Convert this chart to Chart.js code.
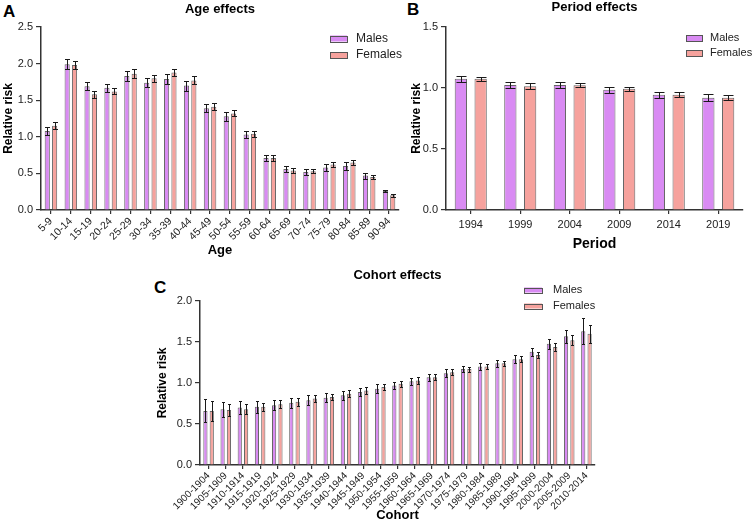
<!DOCTYPE html>
<html>
<head>
<meta charset="utf-8">
<script src="https://cdn.jsdelivr.net/npm/chart.js@4.4.1/dist/chart.umd.min.js"></script>
<style>
  body { margin: 0; background: #fff; width: 753px; height: 523px; overflow: hidden; position: relative; font-family: 'Liberation Sans', Arial, sans-serif; }
  canvas { position: absolute; }
  .tag { position: absolute; font-weight: bold; font-size: 17px; color: #000; line-height: 17px; }
</style>
</head>
<body>
<div class="tag" style="left:3px;top:3px;">A</div>
<div class="tag" style="left:407px;top:1px;">B</div>
<div class="tag" style="left:154px;top:279px;">C</div>
<canvas id="ageChart" width="410" height="258" style="left:0;top:0;"></canvas>
<canvas id="periodChart" width="378" height="258" style="left:375px;top:0;"></canvas>
<canvas id="cohortChart" width="520" height="261" style="left:100px;top:262px;"></canvas>
<script>
// ---- data ----
var ageGroups = ['5-9','10-14','15-19','20-24','25-29','30-34','35-39','40-44','45-49','50-54','55-59','60-64','65-69','70-74','75-79','80-84','85-89','90-94'];
var ageMales   = [1.08,1.99,1.69,1.67,1.83,1.74,1.79,1.70,1.39,1.28,1.03,0.71,0.56,0.52,0.58,0.60,0.47,0.26];
var ageFemales = [1.15,1.98,1.58,1.62,1.86,1.80,1.88,1.77,1.41,1.32,1.04,0.71,0.54,0.53,0.62,0.65,0.45,0.20];
var ageMalesErr   = [0.055,0.07,0.055,0.055,0.064,0.06,0.064,0.068,0.055,0.06,0.05,0.045,0.036,0.036,0.045,0.05,0.04,0.02];
var ageFemalesErr = [0.05,0.06,0.05,0.04,0.06,0.05,0.045,0.055,0.045,0.04,0.045,0.04,0.03,0.027,0.03,0.036,0.027,0.02];

var periods = ['1994','1999','2004','2009','2014','2019'];
var periodMales   = [1.075,1.025,1.025,0.985,0.945,0.92];
var periodFemales = [1.075,1.015,1.023,0.993,0.945,0.92];
var periodMalesErr   = [0.027,0.025,0.025,0.025,0.025,0.027];
var periodFemalesErr = [0.016,0.022,0.016,0.016,0.022,0.022];

var cohorts = ['1900-1904','1905-1909','1910-1914','1915-1919','1920-1924','1925-1929','1930-1934','1935-1939','1940-1944','1945-1949','1950-1954','1955-1959','1960-1964','1965-1969','1970-1974','1975-1979','1980-1984','1985-1989','1990-1994','1995-1999','2000-2004','2005-2009','2010-2014'];
var cohortMales   = [0.66,0.68,0.70,0.71,0.73,0.76,0.79,0.82,0.85,0.89,0.93,0.97,1.02,1.07,1.12,1.17,1.20,1.24,1.29,1.38,1.48,1.57,1.63];
var cohortFemales = [0.66,0.67,0.68,0.71,0.74,0.77,0.81,0.83,0.87,0.91,0.95,0.99,1.03,1.07,1.13,1.17,1.20,1.24,1.29,1.34,1.44,1.52,1.60];
var cohortMalesErr   = [0.14,0.09,0.08,0.07,0.06,0.06,0.06,0.055,0.055,0.05,0.055,0.045,0.045,0.04,0.045,0.04,0.04,0.045,0.05,0.05,0.06,0.08,0.16];
var cohortFemalesErr = [0.12,0.07,0.06,0.05,0.05,0.045,0.04,0.04,0.04,0.04,0.04,0.035,0.04,0.035,0.035,0.03,0.03,0.03,0.035,0.04,0.045,0.06,0.11];

var maleColor = '#d98bf3';
var femaleColor = '#f6a29d';
var edgeColor = '#666666';
var axisColor = '#333333';
var fontFamily = "'Liberation Sans', Arial, sans-serif";

// error bars drawn from the data through the y scale
var errorBars = {
  id: 'errorBars',
  afterDatasetsDraw: function(chart, args, opts){
    var ctx = chart.ctx;
    var yScale = chart.scales.y;
    ctx.save();
    ctx.strokeStyle = '#1a1a1a';
    ctx.lineWidth = 1;
    chart.data.datasets.forEach(function(ds, i){
      var meta = chart.getDatasetMeta(i);
      meta.data.forEach(function(bar, j){
        var v = ds.data[j], e = ds.errors[j];
        var top = Math.round(yScale.getPixelForValue(v + e)) + 0.5;
        var bot = Math.round(yScale.getPixelForValue(v - e)) + 0.5;
        var x = Math.round(bar.x) + 0.5;
        var half = opts.cap / 2;
        ctx.beginPath();
        ctx.moveTo(x, top); ctx.lineTo(x, bot);
        ctx.moveTo(x - half, top); ctx.lineTo(x + half, top);
        ctx.moveTo(x - half, bot); ctx.lineTo(x + half, bot);
        ctx.stroke();
      });
    });
    ctx.restore();
  }
};

// small stacked legend in the top right corner
var boxLegend = {
  id: 'boxLegend',
  afterDraw: function(chart, args, opts){
    var ctx = chart.ctx;
    ctx.save();
    ctx.font = opts.size + 'px ' + fontFamily;
    ctx.textBaseline = 'middle';
    chart.data.datasets.forEach(function(ds, i){
      var y = opts.y + i * opts.gap;
      ctx.fillStyle = ds.backgroundColor;
      ctx.fillRect(opts.x, y - opts.h / 2, opts.w, opts.h);
      ctx.strokeStyle = '#555';
      ctx.lineWidth = 1;
      ctx.strokeRect(opts.x + 0.5, Math.round(y - opts.h / 2) + 0.5, opts.w, opts.h);
      ctx.fillStyle = '#222';
      ctx.fillText(ds.label, opts.x + opts.w + opts.space, y);
    });
    ctx.restore();
  }
};

function makeChart(id, labels, males, females, malesErr, femalesErr, s){
  var ctx = document.getElementById(id);
  return new Chart(ctx, {
    type: 'bar',
    data: {
      labels: labels,
      datasets: [{
        label: 'Males',
        data: males,
        errors: malesErr,
        backgroundColor: maleColor,
        borderColor: edgeColor,
        borderWidth: 1,
        categoryPercentage: s.catPct,
        barPercentage: s.barPct
      },{
        label: 'Females',
        data: females,
        errors: femalesErr,
        backgroundColor: femaleColor,
        borderColor: edgeColor,
        borderWidth: 1,
        categoryPercentage: s.catPct,
        barPercentage: s.barPct
      }]
    },
    options: {
      responsive: false,
      animation: false,
      layout: { padding: { left: 0, right: s.padRight, top: 0, bottom: 0 } },
      plugins: {
        legend: { display: false },
        tooltip: { enabled: false },
        title: {
          display: true,
          text: s.title,
          fullSize: false,
          color: '#000',
          font: { family: fontFamily, size: 13, weight: 'bold' },
          padding: { top: s.titleTop, bottom: s.titleBottom }
        },
        errorBars: { cap: s.cap },
        boxLegend: s.legend
      },
      scales: {
        x: {
          grid: { display: true, drawOnChartArea: false, offset: false, tickLength: 4, color: axisColor, lineWidth: 1.2 },
          border: { color: axisColor, width: 1.5 },
          ticks: { color: '#222', font: { family: fontFamily, size: s.xTickSize }, minRotation: s.rot, maxRotation: s.rot, autoSkip: false, padding: s.xTickPad },
          title: { display: true, text: s.xTitle, color: '#000', font: { family: fontFamily, size: s.xTitleSize, weight: 'bold' }, padding: { top: 0, bottom: s.xTitlePad } },
          afterFit: function(scale){ scale.height = s.xHeight; }
        },
        y: {
          min: 0,
          max: s.yMax,
          grid: { display: true, drawOnChartArea: false, tickLength: 5, color: axisColor, lineWidth: 1.2 },
          border: { color: axisColor, width: 1.5 },
          ticks: { stepSize: 0.5, color: '#222', font: { family: fontFamily, size: 11 }, padding: 3, callback: function(v){ return v.toFixed(1); } },
          title: { display: true, text: 'Relative risk', color: '#000', font: { family: fontFamily, size: 12, weight: 'bold' }, padding: { top: s.yTitlePad, bottom: 0 } },
          afterFit: function(scale){ scale.width = s.yWidth; }
        }
      }
    },
    plugins: [errorBars, boxLegend]
  });
}

makeChart('ageChart', ageGroups, ageMales, ageFemales, ageMalesErr, ageFemalesErr, {
  title: 'Age effects', titleTop: 2, titleBottom: 9.4,
  xTitle: 'Age', xTitleSize: 13, xTitlePad: 0, xHeight: 48, xTickPad: 1, xTickSize: 10.5, rot: 45,
  yMax: 2.5, yWidth: 41, yTitlePad: 1.5,
  padRight: 11, catPct: 0.74, barPct: 0.7, cap: 5,
  legend: { x: 330, y: 38.5, gap: 16.5, w: 17, h: 6, space: 9, size: 12 }
});

makeChart('periodChart', periods, periodMales, periodFemales, periodMalesErr, periodFemalesErr, {
  title: 'Period effects', titleTop: 0, titleBottom: 11.4,
  xTitle: 'Period', xTitleSize: 14, xTitlePad: 5.5, xHeight: 48, xTickPad: 4, xTickSize: 11, rot: 0,
  yMax: 1.5, yWidth: 71, yTitlePad: 34,
  padRight: 10, catPct: 0.8, barPct: 0.62, cap: 10,
  legend: { x: 311, y: 38, gap: 15, w: 16, h: 6, space: 8, size: 11 }
});

makeChart('cohortChart', cohorts, cohortMales, cohortFemales, cohortMalesErr, cohortFemalesErr, {
  title: 'Cohort effects', titleTop: 6, titleBottom: 17.4,
  xTitle: 'Cohort', xTitleSize: 13, xTitlePad: 0, xHeight: 58, xTickPad: 1, xTickSize: 10, rot: 45,
  yMax: 2.0, yWidth: 100, yTitlePad: 55.5,
  padRight: 25, catPct: 0.74, barPct: 0.66, cap: 3,
  legend: { x: 424, y: 28, gap: 16, w: 18, h: 5, space: 11, size: 11 }
});
</script>
</body>
</html>
